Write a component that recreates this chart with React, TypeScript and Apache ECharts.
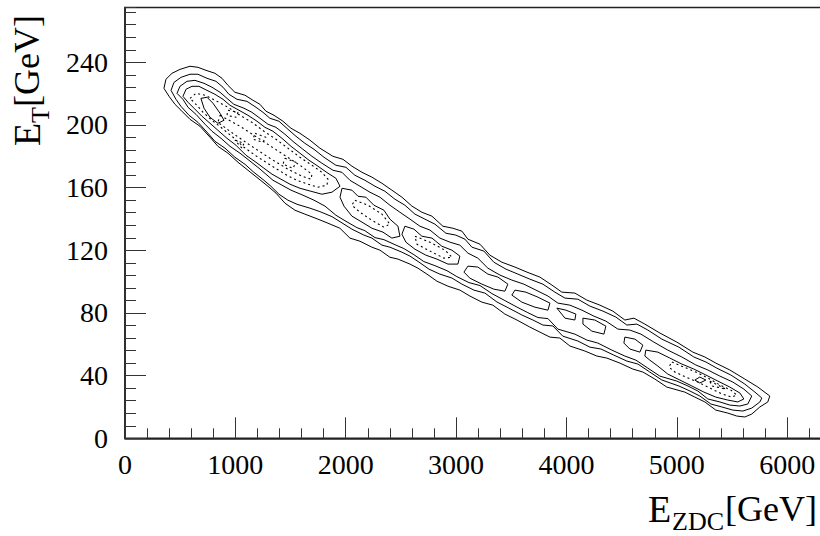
import React, { useEffect, useRef } from "react";
import * as echarts from "echarts";

type Pt = [number, number];

// Axis layout (E_ZDC in GeV, E_T in GeV)
const xRange: Pt = [0, 7000];
const yRange: Pt = [0, 275];
const xMajorStep = 1000;
const yMajorStep = 40;
const yMinorStep = 8;

// Contour lines of the E_T vs E_ZDC distribution, each a closed loop of [E_ZDC, E_T]
const contourLevel1: Pt[] = [
  [353, 223.4], [371, 229.2], [426, 233.0], [498, 235.5], [589, 237.5], [661, 236.8], [734, 234.9], [815, 233.0],
  [879, 229.8], [933, 225.3], [996, 220.9], [1087, 219.0], [1159, 215.8], [1223, 213.2], [1277, 208.8], [1350, 206.2],
  [1431, 202.4], [1504, 197.9], [1585, 194.7], [1676, 190.3], [1766, 185.2], [1884, 180.0], [1975, 178.1], [2056, 173.7],
  [2147, 169.8], [2237, 166.7], [2328, 162.8], [2418, 158.4], [2509, 153.9], [2600, 148.2], [2690, 144.3], [2781, 141.8],
  [2880, 135.4], [2971, 134.1], [3053, 132.2], [3107, 127.1], [3216, 123.9], [3306, 116.9], [3415, 112.4], [3533, 109.3],
  [3641, 106.1], [3759, 102.9], [3868, 97.8], [3958, 93.3], [4076, 92.7], [4185, 88.2], [4303, 85.0], [4420, 81.2],
  [4529, 75.5], [4611, 76.7], [4710, 72.9], [4846, 67.2], [5000, 61.4], [5145, 55.0], [5254, 51.9], [5353, 48.0],
  [5480, 43.6], [5616, 37.8], [5734, 32.7], [5842, 27.0], [5824, 23.2], [5752, 20.0], [5679, 15.5], [5616, 13.6],
  [5543, 14.2], [5462, 16.1], [5353, 18.0], [5254, 23.2], [5163, 26.3], [5072, 29.5], [4909, 32.7], [4801, 37.8],
  [4692, 42.3], [4601, 44.2], [4484, 48.0], [4366, 51.2], [4275, 52.5], [4167, 55.7], [4031, 58.9], [3940, 64.0],
  [3850, 64.6], [3759, 67.8], [3668, 71.0], [3551, 75.5], [3442, 79.3], [3333, 85.0], [3234, 86.9], [3125, 90.8],
  [3034, 94.6], [2926, 97.1], [2826, 100.3], [2736, 104.8], [2654, 108.6], [2582, 111.2], [2473, 114.4], [2400, 115.6],
  [2310, 120.1], [2237, 122.0], [2129, 125.8], [2038, 127.8], [1947, 134.1], [1839, 137.3], [1748, 139.9], [1630, 143.1],
  [1540, 145.6], [1449, 150.1], [1368, 156.5], [1295, 160.9], [1205, 166.0], [1114, 171.1], [1024, 176.2], [933, 182.0],
  [842, 186.4], [770, 192.2], [679, 199.2], [589, 203.6], [507, 209.4], [453, 213.2], [399, 218.3],
];

const contourLevel2: Pt[] = [
  [417, 222.1], [444, 227.2], [507, 230.4], [589, 232.4], [661, 232.4], [743, 229.8], [824, 227.9], [888, 224.1],
  [942, 219.6], [1015, 216.4], [1105, 215.1], [1187, 211.3], [1250, 208.1], [1313, 204.3], [1395, 202.4], [1476, 197.3],
  [1549, 192.8], [1630, 188.3], [1712, 184.5], [1803, 179.4], [1911, 174.3], [2002, 173.0], [2083, 167.9], [2174, 164.7],
  [2265, 160.9], [2355, 157.7], [2446, 152.6], [2536, 148.8], [2627, 143.1], [2717, 139.9], [2808, 136.7], [2908, 130.9],
  [2998, 129.7], [3080, 127.1], [3143, 122.0], [3252, 119.5], [3342, 112.4], [3451, 108.0], [3560, 104.8], [3668, 101.6],
  [3786, 98.4], [3895, 93.3], [3986, 89.5], [4103, 88.8], [4212, 84.4], [4330, 81.2], [4447, 77.4], [4547, 72.3],
  [4638, 72.9], [4737, 69.1], [4864, 63.3], [5018, 58.2], [5154, 51.9], [5263, 48.7], [5362, 44.8], [5489, 40.4],
  [5616, 34.6], [5707, 29.5], [5770, 25.7], [5752, 23.2],
  [5679, 19.3], [5598, 17.4], [5507, 18.0], [5408, 20.0], [5308, 21.9], [5208, 27.0], [5118, 30.2], [5018, 33.4],
  [4864, 37.2], [4755, 42.3], [4647, 47.4], [4547, 49.3], [4429, 53.1], [4312, 57.0], [4212, 58.2], [4103, 62.1],
  [3967, 65.2], [3877, 71.7], [3786, 72.3], [3696, 75.5], [3596, 78.7], [3478, 83.1], [3370, 87.0], [3261, 92.7],
  [3161, 94.6], [3053, 98.4], [2962, 102.3], [2853, 104.8], [2754, 108.0], [2663, 112.5], [2582, 116.3], [2509, 118.8],
  [2400, 122.0], [2328, 123.3], [2237, 127.8], [2165, 129.7], [2056, 133.5], [1966, 137.5], [1875, 141.5], [1766, 144.7],
  [1676, 146.9], [1558, 149.4], [1476, 152.0], [1395, 155.8], [1322, 160.9], [1259, 164.7], [1168, 169.8], [1087, 174.9],
  [996, 179.4], [906, 185.2], [815, 189.6], [743, 195.4], [661, 201.7], [580, 206.2], [507, 211.9], [462, 216.4],
];

const contourLevel3: Pt[] = [
  [471, 220.2], [498, 224.7], [562, 227.9], [634, 228.5], [716, 226.6], [788, 224.1], [861, 220.9], [924, 217.0],
  [987, 213.2], [1078, 210.7], [1150, 208.1], [1223, 204.3], [1295, 200.5], [1368, 198.5], [1449, 194.1], [1531, 189.0],
  [1612, 184.5], [1694, 180.0], [1784, 175.6], [1884, 171.1], [1966, 169.8], [2038, 164.7], [2129, 160.9], [2219, 157.1],
  [2310, 153.9], [2400, 148.8], [2491, 144.3], [2582, 139.9], [2672, 135.4], [2763, 132.9], [2853, 127.8], [2944, 125.2],
  [3034, 123.3], [3107, 118.2], [3197, 115.0], [3288, 108.6], [3397, 104.2], [3505, 101.0], [3614, 98.4], [3723, 94.6],
  [3832, 90.8], [3922, 86.3], [4031, 85.0], [4140, 81.8], [4248, 78.0], [4357, 74.8], [4466, 69.7], [4574, 69.1],
  [4674, 66.5], [4792, 61.4], [4918, 56.3], [5045, 51.9], [5172, 46.8], [5281, 43.6], [5390, 39.7], [5507, 35.9],
  [5607, 31.4], [5679, 27.0], [5643, 21.9],
  [5571, 20.6], [5480, 21.2], [5390, 23.2], [5281, 25.1], [5190, 30.2], [5100, 33.4], [5000, 36.5], [4846, 39.7],
  [4737, 44.8], [4629, 49.9], [4529, 52.5], [4411, 56.3], [4284, 60.8], [4185, 62.7], [4076, 66.5], [3922, 69.7],
  [3832, 76.4], [3741, 77.1], [3650, 80.2], [3542, 84.1], [3442, 87.9], [3324, 92.4], [3216, 97.5], [3116, 99.4],
  [3007, 103.2], [2917, 107.0], [2808, 110.2], [2708, 112.8], [2618, 117.2], [2527, 121.1], [2446, 123.6], [2346, 126.8],
  [2265, 128.1], [2174, 132.5], [2101, 134.5], [1993, 138.9], [1911, 142.4], [1812, 148.2], [1712, 152.0], [1612, 155.2],
  [1504, 158.4], [1422, 161.6], [1341, 164.7], [1277, 168.6], [1214, 172.4], [1123, 177.5], [1042, 182.0], [951, 186.4],
  [870, 191.5], [788, 196.0], [725, 200.5], [643, 206.8], [571, 211.3], [525, 216.4],
];

const headCore: Pt[] = [
  [525, 218.3], [553, 222.8], [607, 224.7], [670, 224.7], [743, 222.1], [815, 219.6], [888, 216.4], [951, 212.6],
  [1033, 209.4], [1114, 206.2], [1196, 202.4], [1268, 198.5], [1341, 196.0], [1422, 191.5], [1504, 186.4], [1585, 182.0],
  [1667, 177.5], [1748, 173.7], [1839, 169.2], [1911, 166.0], [1948, 160.9],
  [1875, 157.1], [1784, 155.8], [1685, 157.7], [1585, 159.6], [1495, 162.2], [1413, 165.4], [1332, 168.6], [1259, 172.4],
  [1187, 176.2], [1096, 180.7], [1005, 187.1], [924, 191.5], [842, 196.6], [770, 201.1], [697, 205.6], [625, 210.7],
  [571, 214.5],
];

const tailCore: Pt[] = [
  [4719, 56.3], [4828, 55.0], [4937, 51.2], [5045, 47.4], [5154, 44.2], [5263, 40.4], [5372, 36.5], [5480, 32.7],
  [5571, 28.9], [5607, 25.1], [5552, 23.2], [5462, 24.4], [5353, 26.3], [5245, 29.5], [5136, 33.4], [5027, 37.2],
  [4918, 41.0], [4828, 46.1], [4755, 49.9], [4710, 52.5],
];

const headNotch: Pt[] = [
  [688, 217.0], [743, 217.7], [797, 213.9], [861, 207.5], [897, 203.0], [842, 201.1], [770, 204.9], [716, 210.7],
];

const islands: Pt[][] = [
  [[1966, 159.6], [2056, 158.4], [2111, 154.5], [2183, 153.9], [2255, 148.8], [2346, 145.6], [2400, 139.9], [2473, 135.4],
   [2491, 129.0], [2418, 127.8], [2337, 131.6], [2237, 134.1], [2147, 138.0], [2056, 141.8], [1984, 148.2], [1948, 153.9]],
  [[2536, 135.4], [2618, 133.5], [2690, 129.0], [2781, 127.8], [2871, 122.6], [2962, 120.1], [3034, 116.3], [3016, 111.2],
   [2926, 111.2], [2826, 114.4], [2726, 116.9], [2627, 120.7], [2545, 125.2], [2509, 130.3]],
  [[3107, 109.9], [3197, 109.3], [3288, 104.8], [3379, 102.9], [3469, 98.4], [3442, 93.9], [3342, 95.2], [3234, 98.4],
   [3125, 102.2], [3071, 106.1]],
  [[3533, 94.6], [3632, 93.3], [3741, 90.1], [3850, 86.3], [3832, 81.8], [3714, 83.7], [3596, 86.9], [3505, 91.4]],
  [[3913, 83.1], [3995, 81.8], [4085, 79.3], [4076, 75.5], [3986, 76.7]],
  [[4149, 76.7], [4257, 75.5], [4357, 71.6], [4339, 66.5], [4230, 68.4], [4149, 72.9]],
  [[4529, 64.6], [4620, 63.3], [4692, 59.5], [4665, 55.0], [4574, 57.0], [4520, 60.8]],
  [[5163, 37.2], [5208, 39.1], [5263, 37.2], [5208, 35.3]],
];

// Highest levels, drawn dotted
const dottedLoops: Pt[][] = [
  [[589, 217.0], [643, 220.2], [725, 219.0], [815, 215.8], [933, 211.3], [1042, 206.2], [1150, 201.7], [1259, 196.0],
   [1368, 190.9], [1476, 185.2], [1585, 179.4], [1694, 174.3], [1784, 169.8], [1839, 165.4], [1830, 161.6], [1748, 160.3],
   [1658, 162.2], [1558, 164.7], [1467, 167.9], [1377, 171.8], [1277, 176.2], [1178, 180.7], [1078, 185.8], [978, 192.2],
   [879, 197.9], [788, 203.0], [707, 208.1], [643, 213.2]],
  [[861, 206.2], [1042, 199.2], [1223, 190.9], [1404, 182.6], [1585, 174.3], [1694, 168.6], [1685, 165.4], [1603, 167.3],
   [1476, 171.8], [1313, 178.8], [1132, 187.1], [951, 196.0], [842, 201.7]],
  [[933, 209.4], [1024, 208.1], [1005, 204.9], [924, 206.2]],
  [[1178, 194.7], [1277, 192.2], [1250, 189.0], [1159, 190.9]],
  [[1449, 178.8], [1549, 176.2], [1522, 172.4], [1431, 174.9]],
  [[996, 190.3], [1078, 188.3], [1060, 185.2]],
  [[2083, 152.0], [2201, 148.8], [2328, 143.1], [2400, 136.7], [2346, 134.8], [2237, 139.2], [2129, 144.3], [2056, 148.8]],
  [[2627, 129.0], [2763, 125.2], [2899, 120.1], [2962, 115.6], [2890, 115.0], [2763, 119.5], [2645, 123.9]],
  [[4955, 48.7], [5063, 45.5], [5172, 42.3], [5281, 38.5], [5390, 34.0], [5489, 30.8], [5543, 27.6], [5498, 26.3],
   [5408, 28.3], [5299, 32.1], [5190, 35.9], [5082, 39.1], [4982, 42.3], [4928, 45.5]],
  [[5299, 36.5], [5444, 31.4], [5317, 33.4]],
];

const SERIF = '"Liberation Serif", "Times New Roman", serif';

const closeLoop = (loop: Pt[]): Pt[] => [...loop, loop[0]];

export default function App() {
  const ref = useRef<HTMLDivElement>(null);

  useEffect(() => {
    if (!ref.current) return;
    const chart = echarts.init(ref.current, null, { renderer: "svg" });

    const solidLoops: Pt[][] = [contourLevel1, contourLevel2, contourLevel3, headCore, tailCore, headNotch, ...islands];

    const lineSeries = (loop: Pt[], dotted: boolean) => ({
      type: "line",
      data: closeLoop(loop),
      xAxisIndex: 0,
      yAxisIndex: 0,
      symbol: "none",
      showSymbol: false,
      silent: true,
      smooth: false,
      lineStyle: { color: "#000", width: dotted ? 1.1 : 1, type: dotted ? [2, 3] : "solid" },
      z: 3,
    });

    const tickLabel = { color: "#000", fontFamily: SERIF, fontSize: 28 };

    chart.setOption({
      animation: false,
      backgroundColor: "#fff",
      // the frame runs on past the right edge of the page
      grid: {
        left: 125,
        top: 7.5,
        width: 772.6,
        height: 430.8,
        outerBoundsMode: "none",
        containLabel: false,
        show: true,
        borderColor: "#222",
        borderWidth: 1.5,
        backgroundColor: "transparent",
      },
      xAxis: [
        {
          type: "value",
          min: xRange[0],
          max: xRange[1],
          interval: xMajorStep,
          axisLine: { show: true, onZero: false, lineStyle: { color: "#222", width: 1.5 } },
          axisTick: { show: true, inside: true, length: 21, lineStyle: { color: "#333", width: 1 } },
          minorTick: { show: true, splitNumber: 5, length: 10, lineStyle: { color: "#333", width: 1 } },
          splitLine: { show: false },
          minorSplitLine: { show: false },
          axisLabel: { ...tickLabel, margin: 12, showMaxLabel: false, formatter: (v: number) => String(v) },
        },
      ],
      yAxis: [
        {
          type: "value",
          position: "left",
          min: yRange[0],
          max: yRange[1],
          interval: yMajorStep,
          axisLine: { show: true, onZero: false, lineStyle: { color: "#222", width: 1.5 } },
          axisTick: { show: true, inside: true, length: 21, lineStyle: { color: "#333", width: 1 } },
          splitLine: { show: false },
          axisLabel: { ...tickLabel, margin: 17, showMaxLabel: false, formatter: (v: number) => String(v) },
        },
        {
          type: "value",
          position: "left",
          offset: 0,
          min: yRange[0],
          max: yRange[1],
          interval: yMinorStep,
          axisLine: { show: false },
          axisTick: { show: true, inside: true, length: 11, lineStyle: { color: "#333", width: 1 } },
          splitLine: { show: false },
          axisLabel: { show: false },
        },
      ],
      graphic: [
        {
          type: "group",
          x: 27,
          y: 146,
          rotation: Math.PI / 2,
          children: [
            { type: "text", x: 0, y: 0, style: { text: "E", font: `38px ${SERIF}`, fill: "#000", align: "left", verticalAlign: "middle" } },
            { type: "text", x: 23, y: 13, style: { text: "T", font: `26px ${SERIF}`, fill: "#000", align: "left", verticalAlign: "middle" } },
            { type: "text", x: 39, y: 0, style: { text: "[GeV]", font: `36px ${SERIF}`, fill: "#000", align: "left", verticalAlign: "middle" } },
          ],
        },
        { type: "text", x: 648, y: 509, style: { text: "E", font: `38px ${SERIF}`, fill: "#000", align: "left", verticalAlign: "middle" } },
        { type: "text", x: 672, y: 521, style: { text: "ZDC", font: `26px ${SERIF}`, fill: "#000", align: "left", verticalAlign: "middle" } },
        { type: "text", x: 725, y: 509, style: { text: "[GeV]", font: `36px ${SERIF}`, fill: "#000", align: "left", verticalAlign: "middle" } },
      ],
      series: [
        ...solidLoops.map((l) => lineSeries(l, false)),
        ...dottedLoops.map((l) => lineSeries(l, true)),
      ],
    });

    return () => chart.dispose();
  }, []);

  return (
    <div
      ref={ref}
      style={{ position: "fixed", left: 0, top: 0, width: 820, height: 536, background: "#fff" }}
    />
  );
}
